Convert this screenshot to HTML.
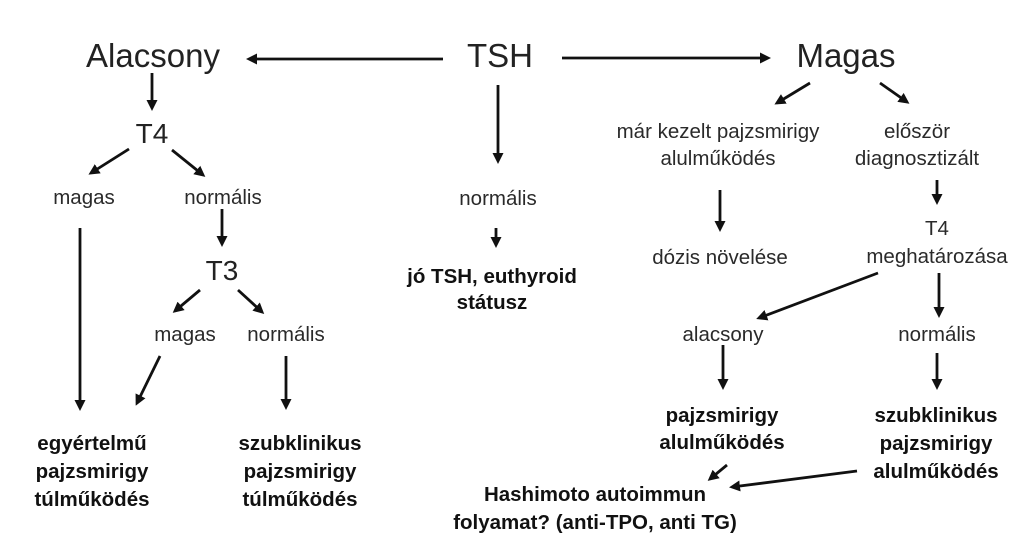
<!DOCTYPE html>
<html><head><meta charset="utf-8"><style>
html,body{margin:0;padding:0;background:#fff;}
svg{display:block;}
text{font-family:"Liberation Sans",sans-serif;fill:#1a1a1a;text-anchor:middle;}
.b{font-weight:bold;font-size:20.5px;fill:#111;}
.r{font-size:20.5px;fill:#2a2a2a;}
.L{font-size:33px;fill:#222;}
.M{font-size:28px;fill:#222;}
</style></head><body>
<svg width="1024" height="536" viewBox="0 0 1024 536" xmlns="http://www.w3.org/2000/svg">
<defs><marker id="a" markerWidth="11" markerHeight="11" refX="8" refY="5.5" orient="auto" markerUnits="userSpaceOnUse"><path d="M0,0 L11,5.5 L0,11 Z" fill="#111"/></marker></defs>
<g stroke="#111" stroke-width="2.8" fill="none" marker-end="url(#a)">
<line x1="443" y1="59" x2="249" y2="59"/>
<line x1="562" y1="58" x2="768" y2="58"/>
<line x1="152" y1="73" x2="152" y2="108"/>
<line x1="129" y1="149" x2="91" y2="173"/>
<line x1="172" y1="150" x2="203" y2="175"/>
<line x1="222" y1="209" x2="222" y2="244"/>
<line x1="200" y1="290" x2="175" y2="311"/>
<line x1="238" y1="290" x2="262" y2="312"/>
<line x1="80" y1="228" x2="80" y2="408"/>
<line x1="160" y1="356" x2="137" y2="403"/>
<line x1="286" y1="356" x2="286" y2="407"/>
<line x1="498" y1="85" x2="498" y2="161"/>
<line x1="496" y1="228" x2="496" y2="245"/>
<line x1="810" y1="83" x2="777" y2="103"/>
<line x1="880" y1="83" x2="907" y2="102"/>
<line x1="720" y1="190" x2="720" y2="229"/>
<line x1="937" y1="180" x2="937" y2="202"/>
<line x1="878" y1="273" x2="759" y2="318"/>
<line x1="939" y1="273" x2="939" y2="315"/>
<line x1="723" y1="345" x2="723" y2="387"/>
<line x1="937" y1="353" x2="937" y2="387"/>
<line x1="727" y1="465" x2="710" y2="479"/>
<line x1="857" y1="471" x2="732" y2="487"/>
</g>
<text class="L" x="153" y="67">Alacsony</text>
<text class="L" x="500" y="67">TSH</text>
<text class="L" x="846" y="67">Magas</text>
<text class="M" x="152" y="143">T4</text>
<text class="r" x="84" y="204">magas</text>
<text class="r" x="223" y="204">normális</text>
<text class="M" x="222" y="280">T3</text>
<text class="r" x="185" y="341">magas</text>
<text class="r" x="286" y="341">normális</text>
<text class="b" x="92" y="450">egyértelmű</text>
<text class="b" x="92" y="478">pajzsmirigy</text>
<text class="b" x="92" y="506">túlműködés</text>
<text class="b" x="300" y="450">szubklinikus</text>
<text class="b" x="300" y="478">pajzsmirigy</text>
<text class="b" x="300" y="506">túlműködés</text>
<text class="r" x="498" y="205">normális</text>
<text class="b" x="492" y="283">jó TSH, euthyroid</text>
<text class="b" x="492" y="309">státusz</text>
<text class="r" x="718" y="138">már kezelt pajzsmirigy</text>
<text class="r" x="718" y="165">alulműködés</text>
<text class="r" x="917" y="138">először</text>
<text class="r" x="917" y="165">diagnosztizált</text>
<text class="r" x="720" y="264">dózis növelése</text>
<text class="r" x="937" y="235">T4</text>
<text class="r" x="937" y="263">meghatározása</text>
<text class="r" x="723" y="341">alacsony</text>
<text class="r" x="937" y="341">normális</text>
<text class="b" x="722" y="422">pajzsmirigy</text>
<text class="b" x="722" y="449">alulműködés</text>
<text class="b" x="936" y="422">szubklinikus</text>
<text class="b" x="936" y="450">pajzsmirigy</text>
<text class="b" x="936" y="478">alulműködés</text>
<text class="b" x="595" y="501">Hashimoto autoimmun</text>
<text class="b" x="595" y="529">folyamat? (anti-TPO, anti TG)</text>
</svg>
</body></html>
